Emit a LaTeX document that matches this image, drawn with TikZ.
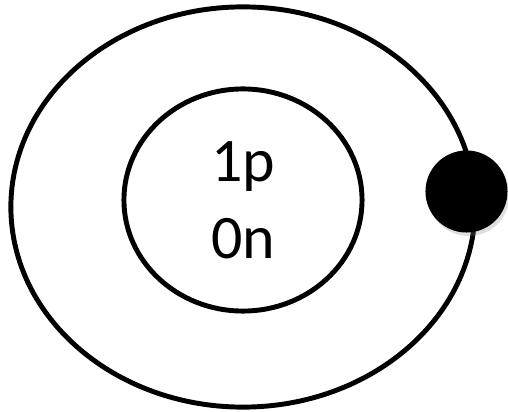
\documentclass[tikz,border=0pt]{standalone}
\usepackage{fontspec}
\setmainfont{Carlito}
\usetikzlibrary{shapes.geometric,shadows}
\begin{document}
\begin{tikzpicture}[x=0.01cm, y=-0.01cm,
  shell/.style={draw, ellipse, line width=1.4pt, inner sep=0pt},
  electron/.style={circle, fill=black, minimum size=0.82cm, inner sep=0pt,
    drop shadow={opacity=0.25, shadow xshift=0.6pt, shadow yshift=-1pt}}]
\useasboundingbox (0,0) rectangle (508,412);
\node[shell, minimum width=4.64cm, minimum height=4.0cm] (orbit) at (243,207) {};
\node[shell, minimum width=2.38cm, minimum height=2.22cm, align=center,
  font=\fontsize{17.6}{21.9}\selectfont] (nucleus) at (243,200) {1p\\0n};
\node[electron] (e) at (466.5,191.5) {};
\end{tikzpicture}
\end{document}
